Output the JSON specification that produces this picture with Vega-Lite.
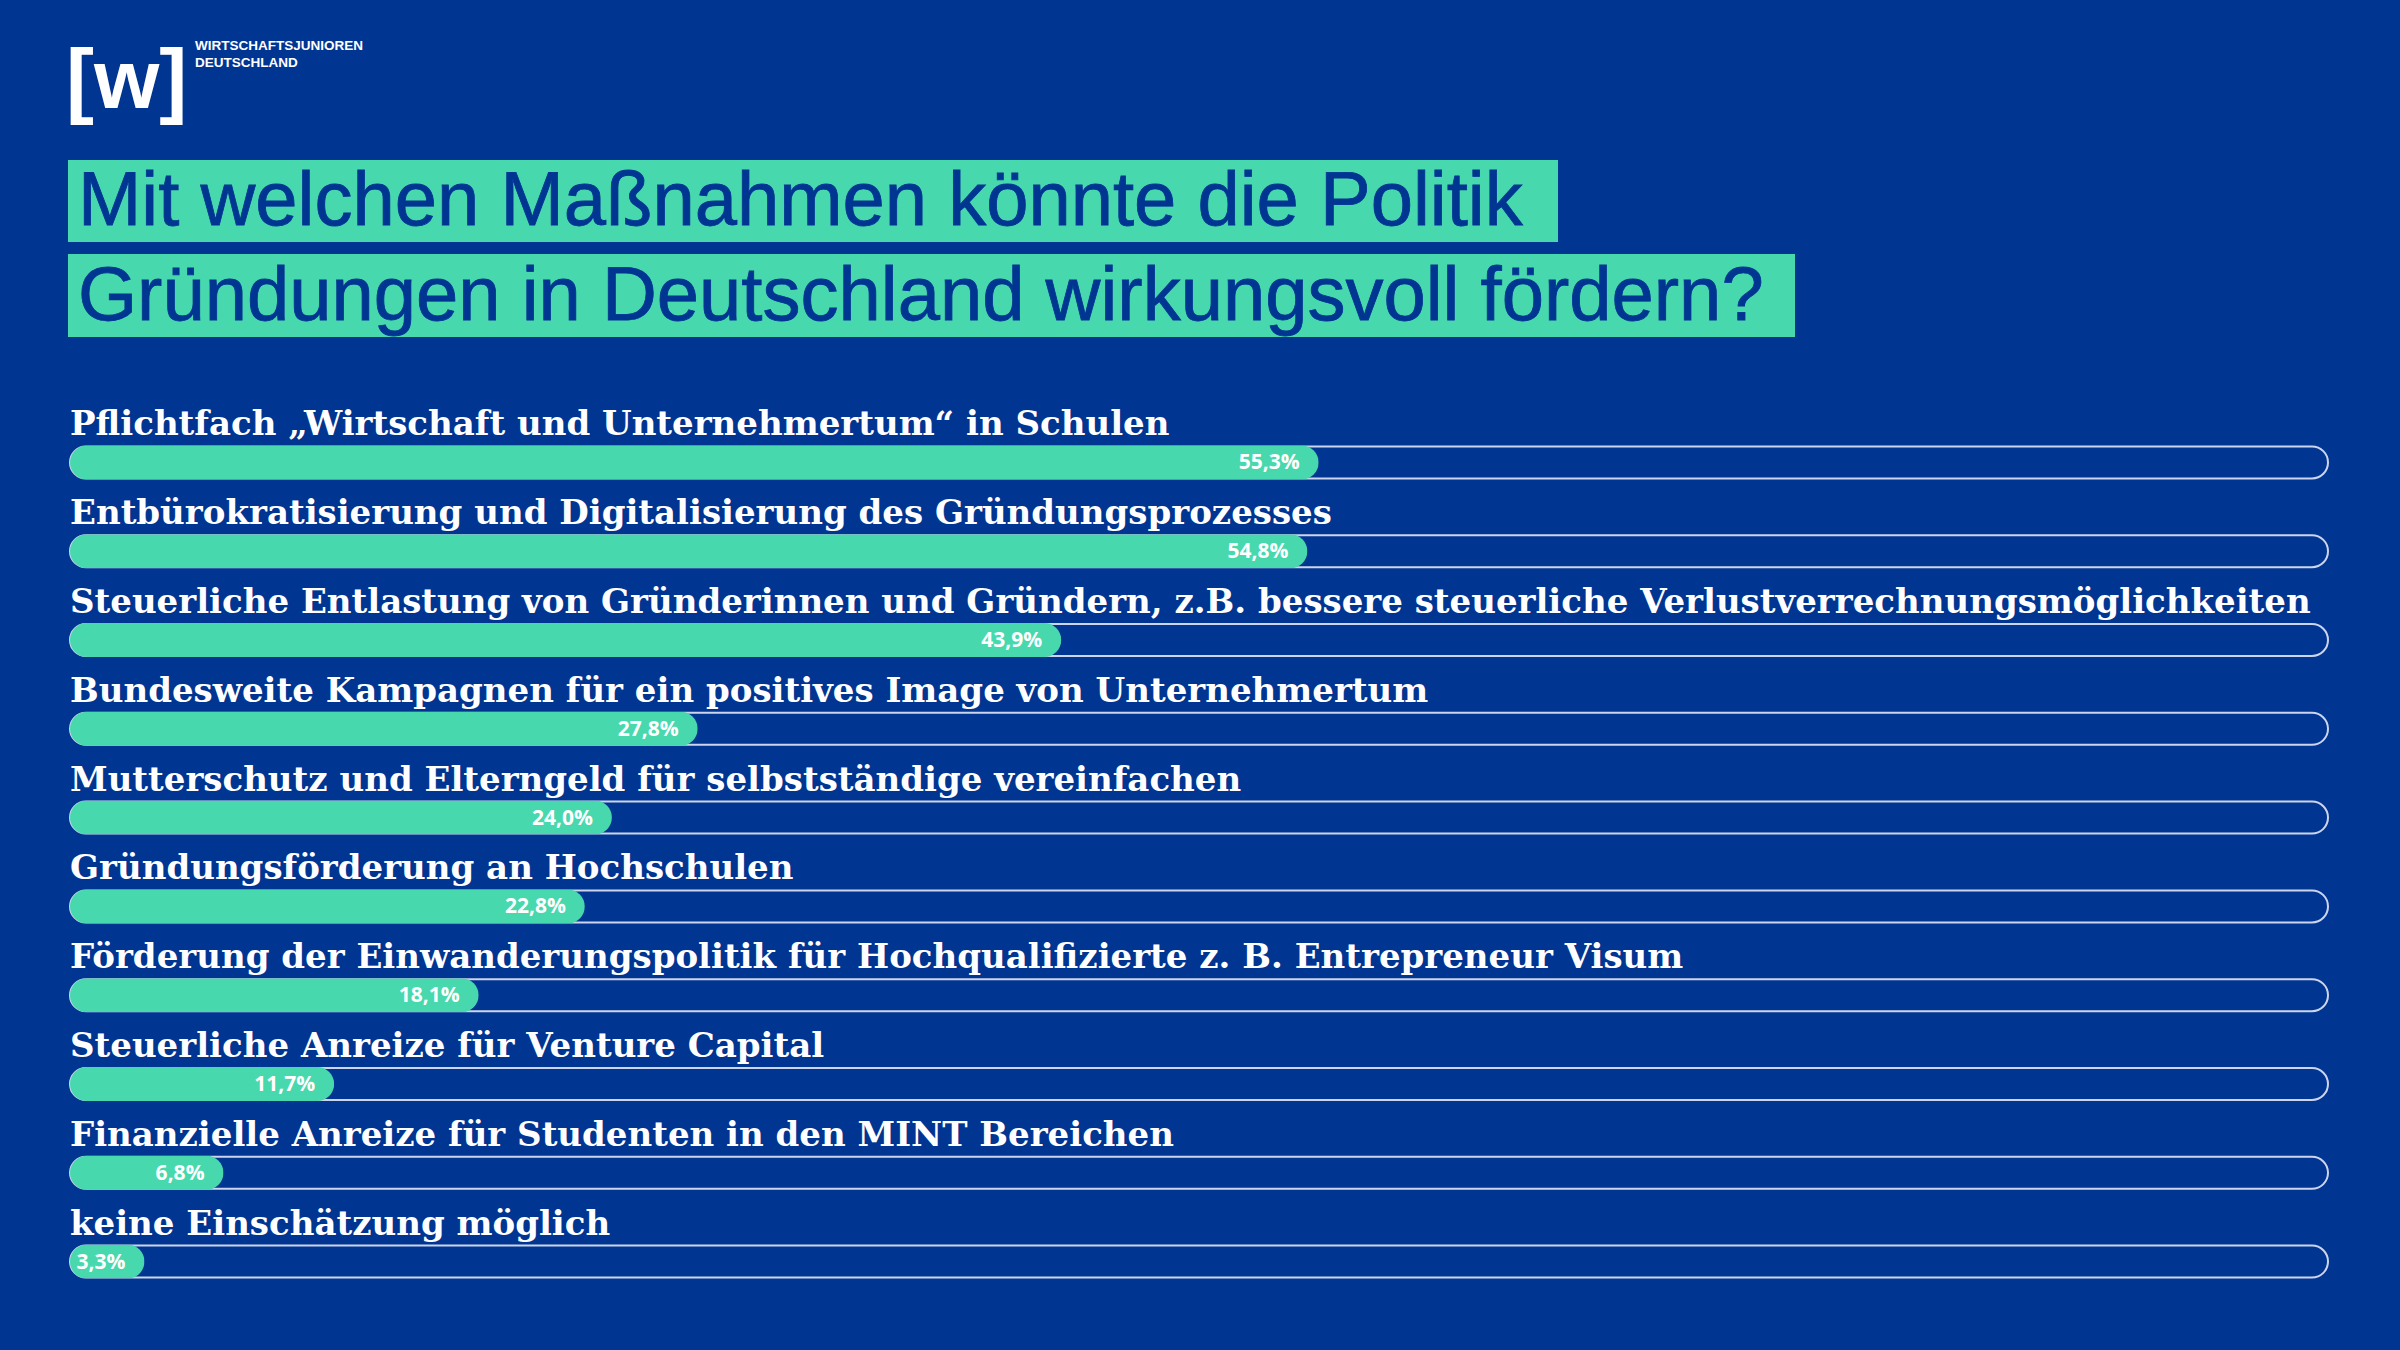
{
  "$schema": "https://vega.github.io/schema/vega-lite/v6.json",
  "width": 2400,
  "height": 1350,
  "autosize": "none",
  "padding": 0,
  "background": "#003592",
  "config": {"view": {"stroke": null}},
  "datasets": {
    "rows": [
      {"label": "Pflichtfach „Wirtschaft und Unternehmertum“ in Schulen", "value": 55.3, "pct": "55,3%"},
      {"label": "Entbürokratisierung und Digitalisierung des Gründungsprozesses", "value": 54.8, "pct": "54,8%"},
      {"label": "Steuerliche Entlastung von Gründerinnen und Gründern, z.B. bessere steuerliche Verlustverrechnungsmöglichkeiten", "value": 43.9, "pct": "43,9%"},
      {"label": "Bundesweite Kampagnen für ein positives Image von Unternehmertum", "value": 27.8, "pct": "27,8%"},
      {"label": "Mutterschutz und Elterngeld für selbstständige vereinfachen", "value": 24.0, "pct": "24,0%"},
      {"label": "Gründungsförderung an Hochschulen", "value": 22.8, "pct": "22,8%"},
      {"label": "Förderung der Einwanderungspolitik für Hochqualifizierte z. B. Entrepreneur Visum", "value": 18.1, "pct": "18,1%"},
      {"label": "Steuerliche Anreize für Venture Capital", "value": 11.7, "pct": "11,7%"},
      {"label": "Finanzielle Anreize für Studenten in den MINT Bereichen", "value": 6.8, "pct": "6,8%"},
      {"label": "keine Einschätzung möglich", "value": 3.3, "pct": "3,3%"}
    ]
  },
  "layer": [
    {
      "data": {"values": [{}]},
      "mark": {"type": "rect", "x": 68, "x2": 1558, "y": 160, "y2": 242, "color": "#48d8ae"},
      "encoding": {}
    },
    {
      "data": {"values": [{}]},
      "mark": {"type": "rect", "x": 68, "x2": 1795, "y": 254, "y2": 337, "color": "#48d8ae"},
      "encoding": {}
    },
    {
      "data": {"values": [{}]},
      "mark": {"type": "text", "text": "Mit welchen Maßnahmen könnte die Politik", "x": 78, "y": 225, "align": "left", "baseline": "alphabetic", "font": "Liberation Sans", "fontSize": 76, "color": "#003592", "stroke": "#003592", "strokeWidth": 0.8},
      "encoding": {}
    },
    {
      "data": {"values": [{}]},
      "mark": {"type": "text", "text": "Gründungen in Deutschland wirkungsvoll fördern?", "x": 78, "y": 320, "align": "left", "baseline": "alphabetic", "font": "Liberation Sans", "fontSize": 76, "color": "#003592", "stroke": "#003592", "strokeWidth": 0.8},
      "encoding": {}
    },
    {
      "data": {"values": [{}]},
      "mark": {"type": "text", "text": "[w]", "x": 66, "y": 108, "align": "left", "baseline": "alphabetic", "font": "Liberation Sans", "fontWeight": "bold", "fontSize": 84, "color": "white"},
      "encoding": {}
    },
    {
      "data": {"values": [{}]},
      "mark": {"type": "text", "text": "WIRTSCHAFTSJUNIOREN", "x": 195, "y": 50, "align": "left", "baseline": "alphabetic", "font": "Liberation Sans", "fontWeight": "bold", "fontSize": 13.5, "color": "white"},
      "encoding": {}
    },
    {
      "data": {"values": [{}]},
      "mark": {"type": "text", "text": "DEUTSCHLAND", "x": 195, "y": 67, "align": "left", "baseline": "alphabetic", "font": "Liberation Sans", "fontWeight": "bold", "fontSize": 13.5, "color": "white"},
      "encoding": {}
    },
    {
      "data": {"name": "rows"},
      "mark": {"type": "bar", "size": 32, "cornerRadius": 16, "fill": "#003592", "stroke": "#cdd5ec", "strokeWidth": 2},
      "encoding": {
        "y": {"field": "label", "type": "nominal", "sort": null, "axis": null, "scale": {"type": "band", "range": [418, 1306], "paddingInner": 0, "paddingOuter": 0}},
        "x": {"datum": 0, "type": "quantitative", "axis": null, "scale": {"domain": [0, 100], "range": [70, 2328]}},
        "x2": {"datum": 100}
      }
    },
    {
      "data": {"name": "rows"},
      "mark": {"type": "bar", "size": 34, "cornerRadius": 17, "fill": "#48d8ae"},
      "encoding": {
        "y": {"field": "label", "type": "nominal", "sort": null, "axis": null},
        "x": {"field": "value", "type": "quantitative", "axis": null}
      }
    },
    {
      "data": {"name": "rows"},
      "mark": {"type": "text", "align": "right", "baseline": "middle", "dx": -19, "dy": 1, "font": "Open Sans", "fontWeight": "bold", "fontSize": 21, "color": "white"},
      "encoding": {
        "y": {"field": "label", "type": "nominal", "sort": null, "axis": null},
        "x": {"field": "value", "type": "quantitative", "axis": null},
        "text": {"field": "pct"}
      }
    },
    {
      "data": {"name": "rows"},
      "mark": {"type": "text", "align": "left", "baseline": "alphabetic", "dy": -27, "font": "DejaVu Serif", "fontWeight": "bold", "fontSize": 34, "color": "white"},
      "encoding": {
        "y": {"field": "label", "type": "nominal", "sort": null, "axis": null},
        "x": {"datum": 0, "type": "quantitative"},
        "text": {"field": "label"}
      }
    }
  ]
}
